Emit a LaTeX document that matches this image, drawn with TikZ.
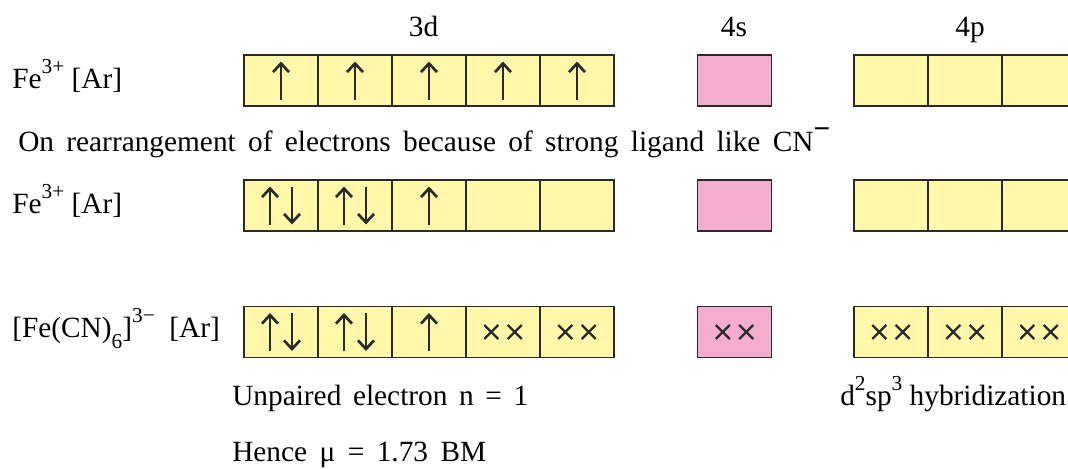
\documentclass[tikz,border=0pt]{standalone}
\usepackage{fontspec}
\setmainfont{Liberation Serif}
\usetikzlibrary{arrows.meta,calc}
\definecolor{dyel}{HTML}{FFF7AA}
\definecolor{spink}{HTML}{F5ADCF}
\definecolor{edgec}{HTML}{2A2A2A}
\tikzset{
 cell/.style={draw=edgec, line width=0.9pt, minimum width=55.5pt, minimum height=38.25pt, inner sep=0pt, outer sep=0pt},
 dcell/.style={cell, fill=dyel},
 scell/.style={cell, fill=spink},
 spin/.style={line width=2pt, draw=edgec, -{Straight Barb[length=6.5pt,width=12pt,line width=2pt]}},
 xmark/.style={line width=1.7pt, draw=edgec},
 lbl/.style={font=\fontsize{22}{26}\selectfont, inner sep=0pt, text=black},
}
\newcommand\sups[1]{\raisebox{0.5em}{\fontsize{16}{16}\selectfont #1}}
\newcommand\subs[1]{\raisebox{-0.38em}{\fontsize{16}{16}\selectfont #1}}
\newcommand\spinup[2][0]{\draw[spin] ($(#2)+(#1,19)$) -- ($(#2)+(#1,-19)$);}
\newcommand\spindn[2][0]{\draw[spin] ($(#2)+(#1,-19)$) -- ($(#2)+(#1,19)$);}
\newcommand\spinpair[1]{\spinup[-11]{#1}\spindn[11]{#1}}
\newcommand\xpair[1]{%
 \foreach \dx in {-11.7,11.7}{%
  \draw[xmark] ($(#1)+({\dx-7},-7)$) -- ($(#1)+({\dx+7},7)$);
  \draw[xmark] ($(#1)+({\dx-7},7)$) -- ($(#1)+({\dx+7},-7)$);
 }}
\begin{document}
\begin{tikzpicture}[x=0.75pt,y=-0.75pt]
\clip (0,0) rectangle (1068,468);
\fill[white] (0,0) rectangle (1068,468);
% cells
\foreach \r/\y in {1/80.5,2/205.5,3/332}{
 \foreach \i in {1,...,5}{\node[dcell] (d\r\i) at ({244+74*(\i-1)+37},\y) {};}
 \node[scell] (s\r) at (734.5,\y) {};
 \foreach \i in {1,2,3}{\node[dcell] (p\r\i) at ({854+74*(\i-1)+37},\y) {};}
}
% headings
\node[lbl, anchor=base] (t3d) at (423.5,36) {3d};
\node[lbl, anchor=base] (t4s) at (734,36) {4s};
\node[lbl, anchor=base] (t4p) at (970,36) {4p};
% row labels
\node[lbl, anchor=base west] (f1) at (12,88) {Fe\sups{3+} [Ar]};
\node[lbl, anchor=base west] (rearr) at (18,151) {\makebox[609pt][s]{On rearrangement of electrons because of strong ligand like CN\raisebox{0.42em}{\textbf{−}}}};
\node[lbl, anchor=base west] (f2) at (12,213) {Fe\sups{3+} [Ar]};
\node[lbl, anchor=base west] (f3) at (12,337) {[Fe(CN)\subs{6}]\sups{3−}\ \ [Ar]};
% bottom text
\node[lbl, anchor=base west] (unp) at (232,405) {\makebox[222pt][s]{Unpaired electron n = 1}};
\node[lbl, anchor=base west] (hyb) at (840,405) {d\sups{2}sp\sups{3} hybridization};
\node[lbl, anchor=base west] (mu) at (232,461) {\makebox[190.5pt][s]{Hence μ = 1.73 BM}};
% row 1 electrons
\foreach \i in {1,...,5}{\spinup{d1\i}}
% row 2 electrons
\spinpair{d21}\spinpair{d22}\spinup{d23}
% row 3 electrons
\spinpair{d31}\spinpair{d32}\spinup{d33}
\xpair{d34}\xpair{d35}\xpair{s3}\xpair{p31}\xpair{p32}\xpair{p33}
\end{tikzpicture}
\end{document}
